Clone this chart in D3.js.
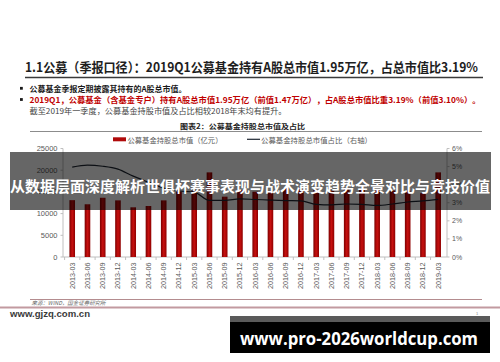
<!DOCTYPE html>
<html>
<head>
<meta charset="utf-8">
<script src="https://cdn.jsdelivr.net/npm/d3@7"></script>
<style>
  html, body { margin: 0; padding: 0; background: #fff; }
  svg { display: block; }
</style>
</head>
<body>
<div id="chart"></div>
<script>
var w = 500;
var h = 362;

// quarters, market value of A shares held (100m yuan), share of total market value (%)
var quarters = ["2013-03", "2013-06", "2013-09", "2013-12", "2014-03", "2014-06", "2014-09", "2014-12",
    "2015-03", "2015-06", "2015-09", "2015-12", "2016-03", "2016-06", "2016-09", "2016-12",
    "2017-03", "2017-06", "2017-09", "2017-12", "2018-03", "2018-06", "2018-09", "2018-12", "2019-03"];
var holdValue = [13100, 12150, 13650, 13050, 11450, 11750, 13050, 15050,
    15300, 19500, 13900, 15450, 15050, 15050, 15800, 15600,
    15450, 15300, 15800, 15450, 15450, 15300, 15300, 14700, 19500];
var holdShare = [4.97, 5.08, 5.02, 4.86, 4.47, 4.14, 3.81, 3.65,
    3.59, 3.13, 3.13, 3.21, 3.18, 3.15, 3.12, 3.10,
    2.91, 2.88, 2.93, 2.91, 2.85, 2.93, 3.04, 3.10, 3.19];
var leftTicks = [0, 5000, 10000, 15000, 20000, 25000];
var rightTicks = [0, 1, 2, 3, 4, 5, 6];

var cjk = "'Noto Sans CJK SC', 'Noto Sans', sans-serif";
var latin = "'Liberation Sans', Arial, sans-serif";

var svg = d3.select("#chart")
    .append("svg")
    .attr("width", w)
    .attr("height", h);

var defs = svg.append("defs");
var grad = defs.append("linearGradient").attr("id", "barGrad")
    .attr("x1", "0").attr("x2", "1").attr("y1", "0").attr("y2", "0");
grad.append("stop").attr("offset", "0").attr("stop-color", "#7d0000");
grad.append("stop").attr("offset", "0.5").attr("stop-color", "#c8100f");
grad.append("stop").attr("offset", "1").attr("stop-color", "#8e0000");

svg.append("rect").attr("width", w).attr("height", h).attr("fill", "#fff");

// slide title
svg.append("text")
    .attr("x", 25).attr("y", 66)
    .attr("dominant-baseline", "central")
    .attr("textLength", 453).attr("lengthAdjust", "spacingAndGlyphs")
    .attr("font-family", cjk).attr("font-weight", "bold").attr("font-size", "13px")
    .attr("fill", "#1e1e1e")
    .text("1.1公募（季报口径）：2019Q1公募基金持有A股总市值1.95万亿，占总市值比3.19%");

svg.append("line")
    .attr("x1", 25).attr("x2", 483).attr("y1", 77.5).attr("y2", 77.5)
    .attr("stroke", "#3a3a3a").attr("stroke-width", 1.6);

// bullets
var rows = [
    { y: 88.3, text: "公募基金季报定期披露其持有的A股总市值。", len: 157, color: "#1a1a1a", bold: true, bullet: true },
    { y: 99.5, text: "2019Q1，公募基金（含基金专户）持有A股总市值1.95万亿（前值1.47万亿），占A股总市值比重3.19%（前值3.10%）。", len: 451, color: "#c00000", bold: true, bullet: true },
    { y: 110.5, text: "截至2019年一季度，公募基金持股市值及占比相较2018年末均有提升。", len: 257, color: "#444", bold: false, bullet: false }
];
rows.forEach(function (r) {
    if (r.bullet) {
        svg.append("rect")
            .attr("x", 20).attr("y", r.y - 1.4).attr("width", 2.8).attr("height", 2.8)
            .attr("fill", "#1a1a1a");
    }
    svg.append("text")
        .attr("x", 29.5).attr("y", r.y)
        .attr("dominant-baseline", "central")
        .attr("textLength", r.len).attr("lengthAdjust", "spacingAndGlyphs")
        .attr("font-family", cjk).attr("font-weight", r.bold ? "bold" : "normal").attr("font-size", "8px")
        .attr("fill", r.color)
        .text(r.text);
});

// figure caption
svg.append("text")
    .attr("x", 180).attr("y", 126)
    .attr("dominant-baseline", "central")
    .attr("textLength", 125).attr("lengthAdjust", "spacingAndGlyphs")
    .attr("font-family", cjk).attr("font-weight", "bold").attr("font-size", "7px")
    .attr("fill", "#222")
    .text("图表2：公募基金持股总市值及占比");

svg.append("line")
    .attr("x1", 30).attr("x2", 482).attr("y1", 131.5).attr("y2", 131.5)
    .attr("stroke", "#8c8c8c").attr("stroke-width", 1);

// legend
svg.append("rect").attr("x", 113).attr("y", 137.3).attr("width", 13).attr("height", 4)
    .attr("fill", "#b00a0a");
svg.append("text")
    .attr("x", 127.5).attr("y", 139.3).attr("dominant-baseline", "central")
    .attr("textLength", 95).attr("lengthAdjust", "spacingAndGlyphs")
    .attr("font-family", cjk).attr("font-size", "7.4px").attr("fill", "#595959")
    .text("公募基金持股总市值（亿元）");
svg.append("line").attr("x1", 247).attr("x2", 260).attr("y1", 139.3).attr("y2", 139.3)
    .attr("stroke", "#1f2733").attr("stroke-width", 1.2);
svg.append("text")
    .attr("x", 261).attr("y", 139.3).attr("dominant-baseline", "central")
    .attr("textLength", 111).attr("lengthAdjust", "spacingAndGlyphs")
    .attr("font-family", cjk).attr("font-size", "7.4px").attr("fill", "#595959")
    .text("公募基金持股总市值占比（右轴）");

// scales
var x = d3.scaleBand().domain(quarters).range([64.6, 445.8]).padding(0);
var yL = d3.scaleLinear().domain([0, 25000]).range([257, 148.5]);
var yR = d3.scaleLinear().domain([0, 6]).range([257, 148.5]);

// axes
var axisColor = "#bfbfbf";
svg.append("line").attr("x1", 63).attr("x2", 447).attr("y1", yL(0)).attr("y2", yL(0))
    .attr("stroke", axisColor);
svg.append("line").attr("x1", 63).attr("x2", 63).attr("y1", yL(25000)).attr("y2", yL(0))
    .attr("stroke", axisColor);
svg.append("line").attr("x1", 447).attr("x2", 447).attr("y1", yR(6)).attr("y2", yR(0))
    .attr("stroke", axisColor);

svg.selectAll(".ltick")
    .data(leftTicks)
    .enter()
    .append("line")
    .attr("x1", 60.5).attr("x2", 63)
    .attr("y1", function (d) { return yL(d); })
    .attr("y2", function (d) { return yL(d); })
    .attr("stroke", axisColor);

svg.selectAll(".llabel")
    .data(leftTicks)
    .enter()
    .append("text")
    .attr("x", 57.5)
    .attr("y", function (d) { return yL(d); })
    .attr("dominant-baseline", "central")
    .attr("text-anchor", "end")
    .attr("font-family", latin).attr("font-size", "7.5px").attr("fill", "#595959")
    .text(function (d) { return d; });

svg.selectAll(".rtick")
    .data(rightTicks)
    .enter()
    .append("line")
    .attr("x1", 447).attr("x2", 449.5)
    .attr("y1", function (d) { return yR(d); })
    .attr("y2", function (d) { return yR(d); })
    .attr("stroke", axisColor);

svg.selectAll(".rlabel")
    .data(rightTicks)
    .enter()
    .append("text")
    .attr("x", 452)
    .attr("y", function (d) { return yR(d); })
    .attr("dominant-baseline", "central")
    .attr("font-family", latin).attr("font-size", "7px").attr("fill", "#595959")
    .text(function (d) { return d + "%"; });

svg.selectAll(".xtick")
    .data(quarters)
    .enter()
    .append("line")
    .attr("x1", function (d) { return x(d); })
    .attr("x2", function (d) { return x(d); })
    .attr("y1", 257).attr("y2", 260)
    .attr("stroke", axisColor);

svg.selectAll(".xlabel")
    .data(quarters)
    .enter()
    .append("text")
    .attr("transform", function (d) {
        return "translate(" + (x(d) + x.bandwidth() / 2) + ",262.5) rotate(-90)";
    })
    .attr("text-anchor", "end")
    .attr("dominant-baseline", "central")
    .attr("font-family", latin).attr("font-size", "7.2px").attr("fill", "#595959")
    .text(function (d) { return d; });

// bars
var barW = 5.6;
svg.selectAll(".bar")
    .data(holdValue)
    .enter()
    .append("rect")
    .attr("x", function (d, i) { return x(quarters[i]) + x.bandwidth() / 2 - barW / 2; })
    .attr("y", function (d) { return yL(d); })
    .attr("width", barW)
    .attr("height", function (d) { return yL(0) - yL(d); })
    .attr("fill", "url(#barGrad)");

// share line
var line = d3.line()
    .x(function (d, i) { return x(quarters[i]) + x.bandwidth() / 2; })
    .y(function (d) { return yR(d); })
    .curve(d3.curveMonotoneX);

svg.append("path")
    .datum(holdShare)
    .attr("d", line)
    .attr("fill", "none")
    .attr("stroke", "#1f2733")
    .attr("stroke-width", 1.2);

// source and footer
svg.append("line").attr("x1", 30).attr("x2", 482).attr("y1", 299.5).attr("y2", 299.5)
    .attr("stroke", "#b48c8f").attr("stroke-width", 1);
svg.append("text")
    .attr("x", 31.5).attr("y", 302.6).attr("dominant-baseline", "central")
    .attr("textLength", 74).attr("lengthAdjust", "spacingAndGlyphs")
    .attr("font-family", cjk).attr("font-style", "italic").attr("font-size", "5.5px").attr("fill", "#666")
    .text("来源：WIND，国金证券研究所");
svg.append("line").attr("x1", 0).attr("x2", 500).attr("y1", 307.6).attr("y2", 307.6)
    .attr("stroke", "#c29aa0").attr("stroke-width", 2);
svg.append("text")
    .attr("x", 10).attr("y", 313.5).attr("dominant-baseline", "central")
    .attr("textLength", 80).attr("lengthAdjust", "spacingAndGlyphs")
    .attr("font-family", latin).attr("font-weight", "bold").attr("font-size", "8.5px").attr("fill", "#3a3a3a")
    .text("www.gjzq.com.cn");
svg.append("text")
    .attr("x", 476).attr("y", 313).attr("dominant-baseline", "central")
    .attr("font-family", latin).attr("font-size", "4px").attr("fill", "#888")
    .text("1");

// overlay band across the chart
svg.append("rect").attr("x", 10).attr("y", 152).attr("width", 481).attr("height", 58)
    .attr("fill", "rgba(0,0,0,0.6)");
svg.append("text")
    .attr("x", 10).attr("y", 185).attr("dominant-baseline", "central")
    .attr("textLength", 480).attr("lengthAdjust", "spacingAndGlyphs")
    .attr("font-family", cjk).attr("font-weight", "bold").attr("font-size", "14.5px").attr("fill", "#fff")
    .text("从数据层面深度解析世俱杯赛事表现与战术演变趋势全景对比与竞技价值");

// bottom banner
svg.append("rect").attr("x", 230).attr("y", 316).attr("width", 260).attr("height", 6)
    .attr("fill", "#5a5a5a");
svg.append("rect").attr("x", 230).attr("y", 322).attr("width", 260).attr("height", 31)
    .attr("fill", "#000");
svg.append("text")
    .attr("x", 240).attr("y", 338).attr("dominant-baseline", "central")
    .attr("textLength", 238).attr("lengthAdjust", "spacingAndGlyphs")
    .attr("font-family", "'Open Sans', 'DejaVu Sans', sans-serif").attr("font-weight", "bold").attr("font-size", "17px")
    .attr("fill", "#fff")
    .text("www.pro-2026worldcup.com");
</script>
</body>
</html>
